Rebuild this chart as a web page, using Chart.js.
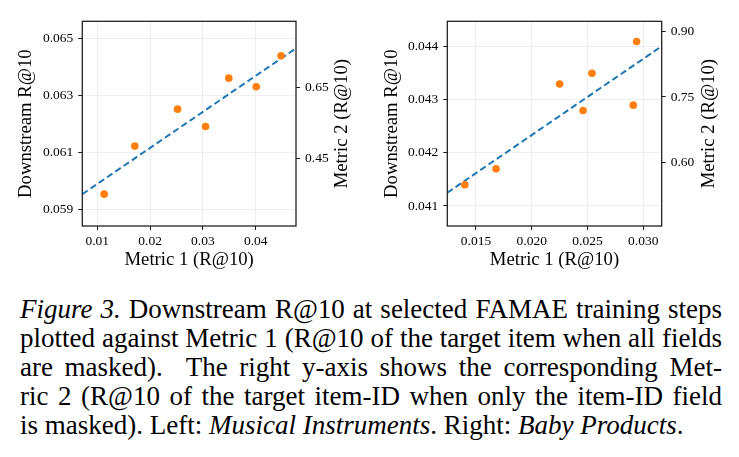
<!DOCTYPE html>
<html>
<head>
<meta charset="utf-8">
<script src="https://cdn.jsdelivr.net/npm/chart.js@4/dist/chart.umd.min.js"></script>
<style>
  html, body { margin: 0; padding: 0; background: #fff; }
  #wrap { position: relative; width: 739px; height: 457px; overflow: hidden; background: #fff; }
  #c1 { position: absolute; left: 0; top: 0; }
  #c2 { position: absolute; left: 370px; top: 0; }
  #caption { position: absolute; left: 20px; top: 294.5px; width: 702px;
    font-family: "Liberation Serif", "Times New Roman", serif; font-size: 27px; line-height: 29px; color: #000; }
  .ln { text-align: justify; text-align-last: justify; white-space: normal; }
  .ln.last { text-align: left; text-align-last: left; white-space: nowrap; }
</style>
</head>
<body>
<div id="wrap">
  <canvas id="c1" width="370" height="280"></canvas>
  <canvas id="c2" width="369" height="280"></canvas>
  <div id="caption">
    <div class="ln"><i>Figure 3.</i> Downstream R@10 at selected FAMAE training steps</div>
    <div class="ln">plotted against Metric 1 (R@10 of the target item when all fields</div>
    <div class="ln">are masked).&nbsp; The right y-axis shows the corresponding Met-</div>
    <div class="ln">ric 2 (R@10 of the target item-ID when only the item-ID field</div>
    <div class="ln last">is masked). Left: <i>Musical Instruments</i>. Right: <i>Baby Products</i>.</div>
  </div>
</div>
<script>
// ---------- Data: left panel (Musical Instruments) ----------
const LEFT_METRIC1 = [0.0113, 0.0171, 0.0252, 0.0305, 0.0349, 0.0401, 0.0448];
const LEFT_DOWNSTREAM = [0.05953, 0.06122, 0.06252, 0.06191, 0.06361, 0.06331, 0.06440];
const LEFT_FIT_X = [0.00716, 0.04763];
const LEFT_FIT_Y = [0.05953, 0.06466];
const LEFT_X_TICKS = [0.01, 0.02, 0.03, 0.04];
const LEFT_X_LABELS = ["0.01", "0.02", "0.03", "0.04"];
const LEFT_Y_TICKS = [0.059, 0.061, 0.063, 0.065];
const LEFT_Y_LABELS = ["0.059", "0.061", "0.063", "0.065"];
const LEFT_Y2_TICKS = [0.45, 0.65];
const LEFT_Y2_LABELS = ["0.45", "0.65"];

// ---------- Data: right panel (Baby Products) ----------
const RIGHT_METRIC1 = [0.0140, 0.0168, 0.0225, 0.0246, 0.0254, 0.0291, 0.0294];
const RIGHT_DOWNSTREAM = [0.04140, 0.04170, 0.04330, 0.04280, 0.04350, 0.04290, 0.04410];
const RIGHT_FIT_X = [0.01243, 0.03165];
const RIGHT_FIT_Y = [0.04125, 0.04401];
const RIGHT_X_TICKS = [0.015, 0.020, 0.025, 0.030];
const RIGHT_X_LABELS = ["0.015", "0.020", "0.025", "0.030"];
const RIGHT_Y_TICKS = [0.041, 0.042, 0.043, 0.044];
const RIGHT_Y_LABELS = ["0.041", "0.042", "0.043", "0.044"];
const RIGHT_Y2_TICKS = [0.60, 0.75, 0.90];
const RIGHT_Y2_LABELS = ["0.60", "0.75", "0.90"];

const X_TITLE = "Metric 1 (R@10)";
const Y_TITLE = "Downstream R@10";
const Y2_TITLE = "Metric 2 (R@10)";

// ---------- Styling / layout ----------
const FONT = "'Liberation Serif', 'Times New Roman', serif";
const ORANGE = "#ff7f0e";
const BLUE = "#1f77b4";
const GRID = "#ebebeb";
const SPINE = "#1a1a1a";

const framePlugin = {
  id: 'frame',
  afterDraw(chart, args, opts) {
    const {ctx, chartArea: a} = chart;
    ctx.save();
    ctx.strokeStyle = SPINE;
    ctx.lineWidth = 1.25;
    ctx.strokeRect(a.left, a.top, a.right - a.left, a.bottom - a.top);
    // right-axis title, reading bottom-to-top
    ctx.fillStyle = '#000';
    ctx.font = "18.7px " + FONT;
    ctx.textAlign = 'center';
    ctx.textBaseline = 'middle';
    ctx.translate(chart.width - opts.y2TitleOffset, (a.top + a.bottom) / 2);
    ctx.rotate(-Math.PI / 2);
    ctx.fillText(opts.y2Title, 0, 0);
    ctx.restore();
  }
};

function setTicks(values) {
  return function (scale) { scale.ticks = values.map(v => ({value: v})); };
}
function labelFrom(values, labels) {
  return function (v) {
    const i = values.findIndex(t => Math.abs(t - v) < 1e-9);
    return i >= 0 ? labels[i] : '';
  };
}

function makeChart(id, p) {
  const ctx = document.getElementById(id);
  return new Chart(ctx, {
    type: 'scatter',
    data: {
      datasets: [
        {
          data: p.x.map((v, i) => ({x: v, y: p.y[i]})),
          backgroundColor: ORANGE, borderColor: ORANGE,
          pointRadius: 3.8, pointBorderWidth: 0, order: 0, yAxisID: 'y'
        },
        {
          data: p.fx.map((v, i) => ({x: v, y: p.fy[i]})),
          showLine: true, borderColor: BLUE, borderWidth: 2,
          borderDash: [6.5, 3.5], pointRadius: 0, fill: false, order: 1, yAxisID: 'y'
        },
        { data: [], yAxisID: 'y2', pointRadius: 0 }
      ]
    },
    options: {
      responsive: false, animation: false, devicePixelRatio: 1,
      layout: { padding: { top: 21.3, left: 0, right: 0, bottom: 0 } },
      plugins: {
        legend: { display: false }, tooltip: { enabled: false },
        frame: { y2Title: Y2_TITLE, y2TitleOffset: p.y2TitleOffset }
      },
      scales: {
        x: {
          type: 'linear', position: 'bottom', min: p.xmin, max: p.xmax,
          afterBuildTicks: setTicks(p.xt),
          afterFit: s => { s.height = 54; },
          grid: { color: GRID, lineWidth: 0.8, tickLength: 4, tickColor: SPINE, tickWidth: 1 },
          border: { display: false },
          ticks: { callback: labelFrom(p.xt, p.xl), font: { family: FONT, size: 13.5 }, color: '#000', padding: 3, maxRotation: 0, autoSkip: false },
          title: { display: true, text: X_TITLE, font: { family: FONT, size: 18.7 }, color: '#000', padding: { top: 0, bottom: 8.8 } }
        },
        y: {
          type: 'linear', position: 'left', min: p.ymin, max: p.ymax,
          afterBuildTicks: setTicks(p.yt),
          afterFit: s => { s.width = p.yw; },
          grid: { color: GRID, lineWidth: 0.8, tickLength: 4, tickColor: SPINE, tickWidth: 1 },
          border: { display: false },
          ticks: { callback: labelFrom(p.yt, p.yl), font: { family: FONT, size: 13.5 }, color: '#000', padding: 5, autoSkip: false },
          title: { display: true, text: Y_TITLE, font: { family: FONT, size: 18.7 }, color: '#000', padding: { top: p.yTitlePad, bottom: 0 } }
        },
        y2: {
          type: 'linear', position: 'right', min: p.y2min, max: p.y2max,
          afterBuildTicks: setTicks(p.y2t),
          afterFit: s => { s.width = p.y2w; },
          grid: { drawOnChartArea: false, tickLength: 4, tickColor: SPINE, tickWidth: 1, color: SPINE },
          border: { display: false },
          ticks: { callback: labelFrom(p.y2t, p.y2l), font: { family: FONT, size: 13.5 }, color: '#000', padding: 5, autoSkip: false },
          title: { display: false }
        }
      }
    },
    plugins: [framePlugin]
  });
}

makeChart('c1', {
  x: LEFT_METRIC1, y: LEFT_DOWNSTREAM, fx: LEFT_FIT_X, fy: LEFT_FIT_Y,
  xmin: 0.00716, xmax: 0.04763, ymin: 0.05841, ymax: 0.06561, y2min: 0.261, y2max: 0.835,
  xt: LEFT_X_TICKS, xl: LEFT_X_LABELS, yt: LEFT_Y_TICKS, yl: LEFT_Y_LABELS, y2t: LEFT_Y2_TICKS, y2l: LEFT_Y2_LABELS,
  yw: 82.3, y2w: 74, yTitlePad: 14.8, y2TitleOffset: 27.5
});
makeChart('c2', {
  x: RIGHT_METRIC1, y: RIGHT_DOWNSTREAM, fx: RIGHT_FIT_X, fy: RIGHT_FIT_Y,
  xmin: 0.01243, xmax: 0.03165, ymin: 0.040623, ymax: 0.04448, y2min: 0.4555, y2max: 0.9228,
  xt: RIGHT_X_TICKS, xl: RIGHT_X_LABELS, yt: RIGHT_Y_TICKS, yl: RIGHT_Y_LABELS, y2t: RIGHT_Y2_TICKS, y2l: RIGHT_Y2_LABELS,
  yw: 77.3, y2w: 77.3, yTitlePad: 10.8, y2TitleOffset: 30
});
</script>
</body>
</html>
